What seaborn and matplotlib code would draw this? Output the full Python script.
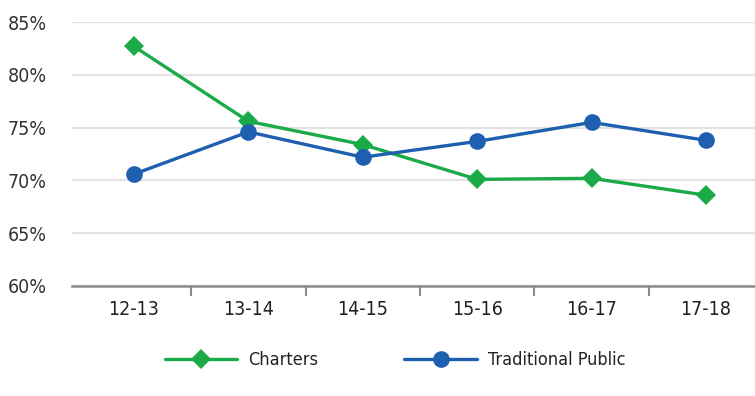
import pandas as pd
import numpy as np
import matplotlib.pyplot as plt
import seaborn as sns
from matplotlib.ticker import FixedLocator, NullFormatter

# data
years = ['12-13', '13-14', '14-15', '15-16', '16-17', '17-18']
charters = [82.7, 75.6, 73.4, 70.1, 70.2, 68.6]
traditional = [70.6, 74.6, 72.2, 73.7, 75.5, 73.8]
series_names = ['Charters', 'Traditional Public']
y_ticks = [60, 65, 70, 75, 80, 85]

df = pd.DataFrame({'Year': years * 2,
                   'Rate': charters + traditional,
                   'Group': [series_names[0]] * len(years) + [series_names[1]] * len(years)})

sns.set_style('white')
plt.rcParams['font.family'] = ['DejaVu Sans']
plt.rcParams['font.stretch'] = 'condensed'

fig = plt.figure(figsize=(7.55, 3.96), dpi=100)
ax = fig.add_axes([0.0954, 0.278, 0.9046, 0.666])

sns.lineplot(data=df, x='Year', y='Rate', hue='Group', style='Group',
             palette={'Charters': '#1aaa48', 'Traditional Public': '#1f5fb0'},
             markers={'Charters': 'D', 'Traditional Public': 'o'},
             dashes=False, linewidth=2.4, ax=ax, legend=False, clip_on=False)
for ln, ms in zip(ax.lines, [10, 12]):
    ln.set_markersize(ms)
    ln.set_markeredgewidth(0)

ax.set_xlim(-0.542, 5.428)
ax.set_ylim(60, 85)
ax.set_yticks(y_ticks)
ax.set_yticklabels([f'{v}%' for v in y_ticks])
ax.yaxis.grid(True, color='#e2e2e2', linewidth=1.6)
ax.set_axisbelow(True)
for s in ['top', 'right', 'left']:
    ax.spines[s].set_visible(False)
ax.spines['bottom'].set_color('#8a8a8a')
ax.spines['bottom'].set_linewidth(1.8)

ax.tick_params(axis='y', length=0, pad=18, labelsize=14, labelcolor='#333333')
ax.tick_params(axis='x', which='major', length=0, pad=10, labelsize=14, labelcolor='#222222')
ax.xaxis.set_minor_locator(FixedLocator(np.arange(0.5, len(years) - 1, 1)))
ax.xaxis.set_minor_formatter(NullFormatter())
ax.tick_params(axis='x', which='minor', bottom=True, length=7, width=1.5, color='#8a8a8a')
ax.set_xlabel('')
ax.set_ylabel('')

handles = [plt.Line2D([], [], color='#1aaa48', marker='D', markersize=10, markeredgewidth=0, linewidth=2.4),
           plt.Line2D([], [], color='#1f5fb0', marker='o', markersize=12, markeredgewidth=0, linewidth=2.4)]
fig.legend(handles, series_names, loc='center', bbox_to_anchor=(0.523, 0.09), ncol=2,
           frameon=False, fontsize=13, handlelength=4.0, handletextpad=0.6,
           columnspacing=4.8, labelcolor='#222222')

plt.savefig('out.png', dpi=100)
